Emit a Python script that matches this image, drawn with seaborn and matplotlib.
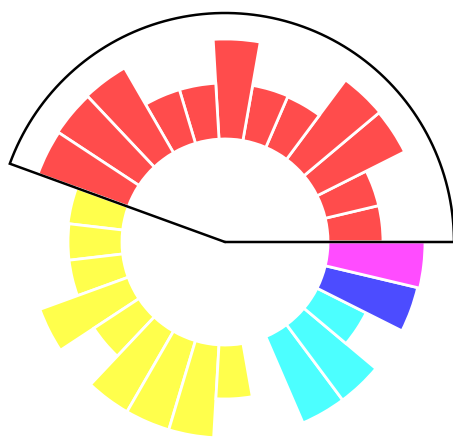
import numpy as np
import matplotlib
matplotlib.use("Agg")
import matplotlib.pyplot as plt
import seaborn as sns

# ---- data (bar heights, outward from the inner hole) ----
red_values = [55, 55, 98, 99, 55, 56, 100, 56, 56, 98, 97, 96]
yellow_values = [55, 54, 54, 94, 54, 93, 93, 93, 54]
cyan_values = [94, 94, 55]
blue_values = [95]
magenta_values = [97]
group_names = ["red", "yellow", "cyan", "blue", "magenta"]
group_values = [red_values, yellow_values, cyan_values, blue_values, magenta_values]
gap_after = [0, 1, 0, 0, 0]  # empty slots after each group

inner_radius = 103
outer_limit = 229
wedge_max_deg = 160

sns.set_theme(style="white")
palette = sns.color_palette(["#ff0000", "#ffff00", "#00ffff", "#0000ff", "#ff00ff"])

n_slots = sum(len(v) for v in group_values) + sum(gap_after)
slot_w = 2 * np.pi / n_slots

fig = plt.figure(figsize=(4.53, 4.38), dpi=100)
W, H = 453, 438
cx, cy, R = 225, 242, 229
ax = fig.add_axes([(cx - R) / W, (H - cy - R) / H, 2 * R / W, 2 * R / H], projection="polar")
ax.set_ylim(0, outer_limit)
ax.set_axis_off()

slot = 0
for name, vals, gap, col in zip(group_names, group_values, gap_after, palette):
    idx = np.arange(slot, slot + len(vals))
    ax.bar(idx * slot_w, vals, width=slot_w, bottom=inner_radius, align="edge",
           facecolor=(*col, 0.7), edgecolor="white", linewidth=2.0)
    slot += len(vals) + gap

# wedge outline: center -> 160deg at R -> arc back to 0 -> center
th = np.linspace(0, np.deg2rad(wedge_max_deg), 200)
wt = np.concatenate([[0.0, np.deg2rad(wedge_max_deg)], th[::-1], [0.0]])
wr = np.concatenate([[0.0, outer_limit], np.full_like(th, outer_limit), [0.0]])
ax.plot(wt, wr, color="black", linewidth=1.8, clip_on=False, solid_joinstyle="miter")

fig.savefig("out.png", dpi=100)
